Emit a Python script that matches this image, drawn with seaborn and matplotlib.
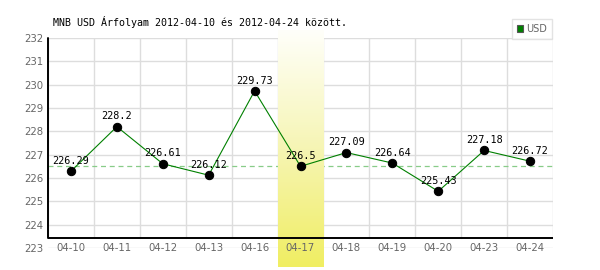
import matplotlib
matplotlib.use("Agg")
import matplotlib.pyplot as plt
from matplotlib.patches import Patch
from matplotlib.colors import LinearSegmentedColormap
import numpy as np
import pandas as pd
import seaborn as sns

dates = ["04-10", "04-11", "04-12", "04-13", "04-16", "04-17",
         "04-18", "04-19", "04-20", "04-23", "04-24"]
values = [226.29, 228.2, 226.61, 226.12, 229.73, 226.5,
          227.09, 226.64, 225.43, 227.18, 226.72]
value_labels = ["226.29", "228.2", "226.61", "226.12", "229.73", "226.5",
                "227.09", "226.64", "225.43", "227.18", "226.72"]
yticks = [223, 224, 225, 226, 227, 228, 229, 230, 231, 232]
highlight = "04-17"
ref_value = 226.5
series_name = "USD"
title = "MNB USD Árfolyam 2012-04-10 és 2012-04-24 között."

sns.set_style("white")
plt.rcParams['font.family'] = ['DejaVu Sans']

df = pd.DataFrame({"date": dates, "value": values})

fig = plt.figure(figsize=(6, 2.7), dpi=100)
W, H = 600, 270
x0, x1, ytop, ybot = 48, 553, 38, 248
ax = fig.add_axes([x0 / W, 1 - ybot / H, (x1 - x0) / W, (ybot - ytop) / H])

ymin, ymax = 223, 232
ppu = (ybot - ytop) / (ymax - ymin)
axis_y = ymin + 10 / ppu  # x-axis line position

# highlight band gradient (white at top -> yellow at bottom)
hi = dates.index(highlight)
cmap = LinearSegmentedColormap.from_list("hl", ["#fffffa", "#f6f5b4", "#f0ee62"])
grad = np.linspace(1, 0, 256).reshape(-1, 1)
band_top = ymax + 8 / ppu
band_bot = ymin - 19 / ppu
ax.imshow(grad, extent=(hi - 0.5, hi + 0.5, band_bot, band_top), cmap=cmap,
          vmin=0, vmax=1, aspect="auto", origin="lower", zorder=2.5, clip_on=False)
ax.set_ylim(ymin, ymax)
ax.set_xlim(-0.5, len(dates) - 0.5)

# grid
for yv in yticks:
    ax.axhline(yv, color="#dddddd", lw=1, zorder=1)
for i in range(len(dates) + 1):
    xv = i - 0.5
    ax.plot([xv, xv], [axis_y, ymax], color="#dddddd", lw=1, zorder=1)

# reference line
ax.axhline(ref_value, color="#88cc88", lw=0.9, ls=(0, (4, 3)), zorder=2)

sns.lineplot(data=df, x="date", y="value", sort=False, ax=ax, color="#008000",
             lw=0.8, marker="o", markersize=6, markerfacecolor="black",
             markeredgecolor="black", zorder=3)

for i, (v, lab) in enumerate(zip(values, value_labels)):
    ax.annotate(lab, (i, v), xytext=(0, 7.5), textcoords="offset points",
                ha="center", va="center", fontsize=7.3,
                family="DejaVu Sans Mono", color="black", zorder=4)

# axis lines
ax.axhline(axis_y, color="black", lw=1.4, zorder=3)
ax.plot([-0.5, -0.5], [axis_y, ymax], color="black", lw=1.4, zorder=3, clip_on=False)

for s in ax.spines.values():
    s.set_visible(False)

ax.set_ylim(ymin, ymax)
ax.set_xlim(-0.5, len(dates) - 0.5)
ax.set_yticks(yticks)
ax.set_yticklabels([str(t) for t in yticks])
ax.set_xticks(range(len(dates)))
ax.set_xticklabels(dates)
ax.tick_params(axis="y", length=0, pad=3.5, labelsize=7.3, labelcolor="#666666")
ax.tick_params(axis="x", length=0, pad=-3.5, labelsize=7.3, labelcolor="#666666")
ax.set_xlabel("")
ax.set_ylabel("")
ax.grid(False)
ax.set_axisbelow(False)
for t in ax.get_xticklabels():
    t.set_zorder(5)

fig.text(53 / W, 1 - 22 / H, title, family="DejaVu Sans Mono", fontsize=7.2,
         va="center", ha="left", color="black")

leg = fig.legend(handles=[Patch(facecolor="#008000", edgecolor="#555555", lw=0.8,
                                label=series_name)],
                 loc="upper right", bbox_to_anchor=(552 / W, 1 - 19 / H),
                 borderaxespad=0, frameon=True, fancybox=False, fontsize=7,
                 handlelength=0.7, handleheight=0.7, handletextpad=0.3,
                 borderpad=0.5, labelcolor="#666666")
leg.get_frame().set_edgecolor("#dddddd")
leg.get_frame().set_linewidth(1)

fig.savefig("out.png", dpi=100)
